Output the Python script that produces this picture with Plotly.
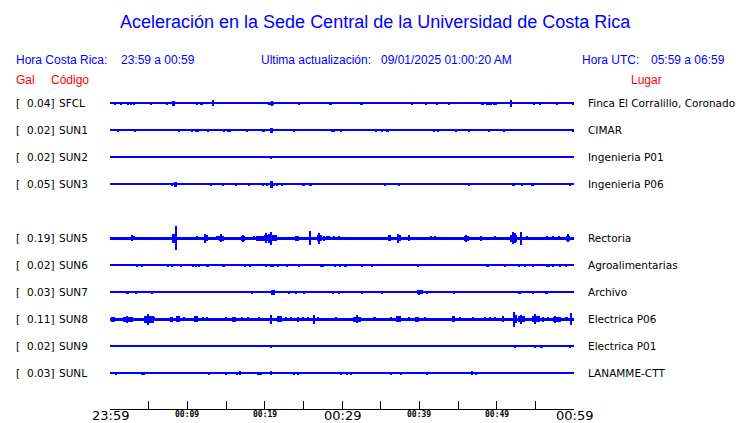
import plotly.graph_objects as go

# ---------------- data ----------------
STATION_CODES = ["SFCL", "SUN1", "SUN2", "SUN3", "SUN4", "SUN5", "SUN6", "SUN7", "SUN8", "SUN9", "SUNL"]
GAL = [0.04, 0.02, 0.02, 0.05, None, 0.19, 0.02, 0.03, 0.11, 0.02, 0.03]
LUGAR = ["Finca El Corralillo, Coronado", "CIMAR", "Ingenieria P01", "Ingenieria P06", "",
         "Rectoria", "Agroalimentarias", "Archivo", "Electrica P06", "Electrica P01", "LANAMME-CTT"]
# background noise half-amplitude of each trace (amplitude units)
NOISE = [0.55, 0.55, 0.55, 0.55, None, 1.6, 0.55, 0.55, 1.6, 0.55, 0.55]

# bursts: (minutes after 23:59, half amplitude, duration in minutes)
SFCL_B = [(0.61, 1.5, .13), (1.46, 1.5, .3), (2.33, 1.5, .3), (2.68, 1.5, .3), (3.15, 1.5, .13), (3.54, 1, .13),
          (3.98, 1, .13), (4.57, 1, .13), (5.27, 1.5, .3), (6.78, 1, .13), (7.35, 1.5, .3), (7.68, 1, .13),
          (8.20, 2.5, .3), (8.90, 1, .13), (10.20, 1, .13), (11.24, 1.5, .3), (11.83, 1.5, .3), (13.31, 3, .15),
          (13.90, 1, .13), (14.94, 1, .13), (15.72, 1, .13), (16.07, 1, .13), (17.79, 1, .13), (18.88, 1, .13),
          (20.00, 1, .13), (20.77, 1.5, .8), (20.95, 2.5, .15), (21.81, 1, .13), (22.12, 1, .13), (22.64, 1, .13),
          (24.40, 1.5, .3), (25.05, 1, .13), (25.57, 1, .13), (28.51, 1.5, .3), (29.58, 1, .13), (31.06, 1, .13),
          (32.53, 1.5, .3), (35.51, 1, .13), (37.02, 1, .13), (39.04, 1.5, .13), (40.47, 1, .13), (40.86, 1.5, .13),
          (42.28, 1.5, .13), (43.32, 1, .13), (43.80, 1.5, .3), (47.73, 1, .13), (48.17, 1.5, .4), (48.69, 1.5, .13),
          (49.02, 1.5, .13), (49.33, 1.5, .13), (49.80, 1.5, .5), (51.80, 3.5, .15), (54.81, 1.5, .3), (55.59, 1.5, .3),
          (56.54, 1, .13), (57.79, 1.5, .3), (58.61, 1, .13), (59.26, 1, .13), (59.83, 1.5, .3)]
SUN1_B = [(1.08, 1.5, .13), (2.11, 1, .13), (3.28, 1.5, .13), (8.90, 1.5, .3), (10.66, 1.5, .13), (11.18, 1.5, .13),
          (11.44, 1.5, .13), (12.66, 1.5, .13), (13.39, 1, .13), (14.68, 1.5, .13), (14.94, 1, .13), (15.20, 1.5, .13),
          (15.46, 1.5, .13), (17.71, 1.5, .13), (19.83, 1.5, .4), (20.90, 2.3, .4), (22.07, 1, .13), (22.98, 1, .13),
          (23.75, 1.5, .13), (24.71, 1, .13), (28.73, 1.5, .13), (28.99, 1.5, .13), (29.90, 1.5, .13), (34.38, 1.5, .13),
          (35.16, 1.5, .13), (35.54, 1, .13), (35.89, 1.5, .3), (37.36, 1, .13), (41.95, 1.5, .13), (42.41, 1.5, .13),
          (44.75, 1.5, .13), (46.43, 1.5, .13), (49.02, 1.5, .13), (50.97, 1.5, .13), (52.13, 1, .13), (59.9, 1.5, .13)]
SUN2_B = [(20.82, 1.5, .3)]
SUN3_B = [(2.11, 1, .13), (3.41, 1, .13), (8.07, 1.5, .13), (8.46, 2.3, .4), (13.12, 1.5, .13), (14.55, 1.5, .13),
          (16.24, 1.5, .13), (17.53, 1, .13), (17.92, 1.5, .13), (19.74, 1.5, .13), (20.31, 1.5, .3), (20.86, 3.7, .4),
          (21.25, 1.5, .3), (21.55, 1.5, .13), (22.20, 1.5, .13), (25.01, 1.5, .3), (25.92, 1.5, .3), (35.51, 1.5, .13),
          (37.41, 1.5, .3), (46.43, 1.5, .13), (48.50, 1, .13), (52.18, 1.5, .5), (53.26, 1.5, .3), (54.65, 1.5, .3),
          (59.49, 1.5, .13)]
SUN4_B = []
SUN5_B = [(2.89, 3, .15), (3.11, 2, .15), (8.16, 4.5, .4), (8.51, 12, .15), (11.31, 2, .15), (12.40, 3, .5),
          (12.35, 4.5, .15), (13.96, 2, .4), (14.42, 2.5, .6), (14.40, 4, .15), (17.23, 2.5, .5), (17.20, 3.5, .15),
          (18.66, 2, .15), (19.40, 2.5, 1.0), (20.38, 3, 1.0), (20.20, 5, .15), (20.60, 4.5, .15),
          (20.82, 6.5, .2), (21.25, 3, .6), (24.19, 2.5, .5), (25.92, 7, .2), (27.08, 3, .6), (27.00, 5.5, .15),
          (27.73, 2.5, .15), (28.08, 2, .15), (28.38, 2, .15), (29.03, 2, .15), (29.58, 2, .15), (36.15, 3, .5),
          (37.32, 3, .5), (37.30, 4.5, .15), (38.65, 3, .2), (41.56, 2, .15), (41.99, 2, .15), (46.09, 2.5, .7),
          (46.10, 3.5, .15), (47.98, 2.5, .3), (49.76, 2, .15), (52.22, 3.5, .9), (52.10, 6, .15), (52.40, 5, .15),
          (53.22, 6.5, .15), (53.87, 2, .15), (56.46, 2, .15), (57.31, 2, .15), (58.09, 2, .15), (59.22, 2.5, .4),
          (59.20, 4, .15)]
SUN6_B = [(1.39, 1, .13), (2.11, 1, .13), (3.46, 1.5, .13), (4.11, 1.5, .13), (7.56, 1.5, .13), (8.00, 1.5, .13),
          (8.51, 1, .13), (9.16, 1.5, .13), (10.79, 1.5, .13), (11.18, 1.5, .13), (11.53, 1.5, .13), (12.61, 1.5, .4),
          (14.64, 1.5, .4), (16.50, 1, .13), (17.49, 1.5, .13), (18.10, 1.5, .3), (20.13, 1.5, .13), (20.90, 1.5, .5),
          (21.68, 1.5, .13), (22.85, 1.5, .13), (24.40, 1.5, .13), (27.43, 1.5, .5), (29.07, 1.5, .13), (29.68, 1.5, .13),
          (30.45, 1.5, .3), (32.62, 1.5, .3), (33.86, 1.5, .13), (36.50, 1, .13), (39.82, 1.5, .13), (48.81, 1.5, .3),
          (51.02, 1.5, .13), (52.83, 1.5, .13), (53.69, 1.5, .13), (54.72, 1.5, .13), (56.63, 1.5, .5), (57.31, 1.5, .13),
          (58.18, 1.5, .3), (58.96, 1.5, .13)]
SUN7_B = [(2.24, 1.5, .4), (3.33, 1.5, .13), (5.48, 1.5, .13), (6.44, 1, .13), (14.47, 1, .13), (18.36, 1.5, .13),
          (21.03, 2.5, .5), (23.20, 1.5, .13), (24.06, 1.5, .13), (25.05, 1.5, .13), (28.81, 1.5, .13), (29.58, 1.5, .13),
          (31.40, 1, .13), (32.62, 1.5, .3), (35.16, 1.5, .13), (37.45, 1, .13), (40.04, 2, .8), (40.00, 2.5, .15),
          (40.99, 1.5, .3), (44.45, 1.5, .13), (53.00, 1.5, .4), (54.69, 1.5, .3), (56.46, 1.5, .4)]
SUN8_B = [(0.39, 2.5, .4), (2.33, 2.5, 1.2), (2.20, 3.5, .15), (5.10, 3.5, 1.3), (4.97, 5.5, .15), (5.70, 2, .15),
          (7.94, 2.5, .4), (8.77, 3, .6), (9.59, 2, .15), (11.11, 3, .6), (12.05, 2, .15), (12.49, 2, .15),
          (15.00, 2, .3), (16.04, 2.5, .6), (17.07, 2, .15), (17.79, 2, .15), (19.31, 2, .15), (20.82, 4.5, .2),
          (21.90, 3, .7), (22.77, 2, .15), (23.42, 2, .15), (24.28, 2.5, .3), (24.92, 2, .15), (25.57, 2, .15),
          (26.44, 4.5, .2), (26.87, 2, .15), (29.25, 2, .15), (31.92, 2.5, 1.0), (31.90, 4, .15), (34.21, 2, .4),
          (36.37, 2, .15), (37.32, 3, .6), (38.65, 2, .15), (39.69, 2.5, .6), (40.69, 2, .15), (44.36, 3, .4),
          (45.22, 2, .15), (46.95, 2, .15), (48.46, 2, .15), (49.20, 2, .15), (49.76, 2, .15), (50.84, 3, .3),
          (52.35, 4, .5), (52.30, 7.5, .15), (53.22, 3, .9), (53.10, 4.5, .15), (55.07, 3, 1.0), (55.00, 5, .15),
          (56.02, 2.5, .15), (56.67, 2, .15), (57.83, 2.5, 1.0), (57.60, 3.5, .15), (59.05, 2, .4), (59.57, 6, .15)]
SUN9_B = [(4.97, 1, .13), (20.82, 1.5, .25), (52.44, 1.5, .2), (54.90, 1.5, .13), (55.68, 1.5, .13),
          (55.89, 1.5, .13), (59.52, 1.5, .13)]
SUNL_B = [(0.74, 1.5, .13), (2.11, 1, .13), (4.19, 1.5, .13), (4.41, 1.5, .13), (8.59, 1, .13), (9.50, 1, .13),
          (12.74, 1.5, .13), (14.94, 1.5, .13), (15.20, 1, .13), (16.42, 1.5, .13), (16.81, 2, .3), (19.22, 1.5, .3),
          (19.48, 1.5, .13), (20.82, 2, .3), (23.33, 1, .13), (23.75, 1.5, .13), (24.27, 1.5, .13), (25.96, 1, .13),
          (29.84, 1.5, .13), (30.67, 1.5, .3), (31.19, 1.5, .13), (33.13, 1, .13), (36.37, 1.5, .13), (37.67, 1.5, .13),
          (40.99, 1.5, .13), (46.82, 2, .13), (47.39, 1.5, .13), (57.57, 1, .13)]
BURSTS = [SFCL_B, SUN1_B, SUN2_B, SUN3_B, SUN4_B, SUN5_B, SUN6_B, SUN7_B, SUN8_B, SUN9_B, SUNL_B]

WINDOW_MIN = 60
MAJOR_TICKS = [0, 30, 60]
MAJOR_LABELS = ["23:59", "00:29", "00:59"]
MINOR_TICKS = [10, 20, 40, 50]
MINOR_LABELS = ["00:09", "00:19", "00:39", "00:49"]
TICK_STEP = 5

TITLE = "Aceleración en la Sede Central de la Universidad de Costa Rica"
HORA_CR = "23:59 a 00:59"
ULTIMA = "09/01/2025 01:00:20 AM"
HORA_UTC = "05:59 a 06:59"

# ---------------- layout helpers ----------------
W, H = 740, 423
ML, MR, MT, MB = 110, 166, 88, 14
PW, PH = W - ML - MR, H - MT - MB
ROW_PX = 27.0
ROW0_PX = 103.3
AMP_TO_ROW = 1.0 / ROW_PX
BLUE = "#0000ff"
RED = "#ff0000"


def paper_x(p):
    return (p - ML) / PW


def paper_y(p):
    return (H - MB - p) / PH


fig = go.Figure()

for k, code in enumerate(STATION_CODES):
    if GAL[k] is None:
        continue
    xs = [WINDOW_MIN / 2]
    ws = [WINDOW_MIN]
    bases = [k - NOISE[k] * AMP_TO_ROW]
    hs = [2 * NOISE[k] * AMP_TO_ROW]
    for t, a, d in BURSTS[k]:
        xs.append(t)
        ws.append(d)
        bases.append(k - a * AMP_TO_ROW)
        hs.append(2 * a * AMP_TO_ROW)
    fig.add_trace(go.Bar(x=xs, y=hs, base=bases, width=ws, marker=dict(color=BLUE, line=dict(width=0)),
                         showlegend=False, hoverinfo="skip"))

ann = []
LBL_FONT = dict(family="DejaVu Sans", size=10.5, color="black")
for k, code in enumerate(STATION_CODES):
    if GAL[k] is None:
        continue
    ann.append(dict(x=paper_x(14), xref="paper", y=k, yref="y", text="[", showarrow=False,
                    xanchor="left", yanchor="middle", font=LBL_FONT))
    ann.append(dict(x=paper_x(55.5), xref="paper", y=k, yref="y", text=f"{GAL[k]:.2f}]", showarrow=False,
                    xanchor="right", yanchor="middle", font=LBL_FONT))
    ann.append(dict(x=paper_x(57), xref="paper", y=k, yref="y", text=code, showarrow=False,
                    xanchor="left", yanchor="middle", font=LBL_FONT))
    ann.append(dict(x=paper_x(586), xref="paper", y=k, yref="y", text=LUGAR[k], showarrow=False,
                    xanchor="left", yanchor="middle", font=LBL_FONT))

HDR = dict(family="Liberation Sans", size=12, color=BLUE)
REDF = dict(family="Liberation Sans", size=12, color=RED)
for txt, x0, y0, f in [("Hora Costa Rica:", 14, 60.5, HDR), (HORA_CR, 119, 60.5, HDR),
                       ("Ultima actualización:", 259, 60.5, HDR), (ULTIMA, 379, 60.5, HDR),
                       ("Hora UTC:", 579.5, 60.5, HDR), (HORA_UTC, 649, 60.5, HDR),
                       ("Gal", 14, 80.5, REDF), ("Código", 49, 80.5, REDF), ("Lugar", 629, 80.5, REDF)]:
    ann.append(dict(x=paper_x(x0), xref="paper", y=paper_y(y0), yref="paper", text=txt, showarrow=False,
                    xanchor="left", yanchor="middle", font=f))

ann.append(dict(x=paper_x(375), xref="paper", y=paper_y(22), yref="paper", text=TITLE, showarrow=False,
                xanchor="center", yanchor="middle", font=dict(family="Liberation Sans", size=18, color=BLUE)))

for t, lab in zip(MAJOR_TICKS, MAJOR_LABELS):
    ann.append(dict(x=t, xref="x", y=paper_y(415.5), yref="paper", text=lab, showarrow=False,
                    xanchor="center", yanchor="middle",
                    font=dict(family="DejaVu Sans", size=13, color="black")))
for t, lab in zip(MINOR_TICKS, MINOR_LABELS):
    ann.append(dict(x=t, xref="x", y=paper_y(414.5), yref="paper", text=f"<b>{lab}</b>", showarrow=False,
                    xanchor="center", yanchor="middle",
                    font=dict(family="DejaVu Sans Mono", size=8, color="black")))

y_bottom = (H - MB - ROW0_PX) / ROW_PX
y_top = (MT - ROW0_PX) / ROW_PX

fig.update_layout(
    width=W, height=H, margin=dict(l=ML, r=MR, t=MT, b=MB, pad=0),
    paper_bgcolor="white", plot_bgcolor="white",
    barmode="overlay", bargap=0, bargroupgap=0,
    annotations=ann,
    xaxis=dict(range=[0, WINDOW_MIN], tickvals=list(range(0, WINDOW_MIN + 1, TICK_STEP)),
               ticks="inside", ticklen=8, tickwidth=1, tickcolor="black",
               showline=True, linecolor="black", linewidth=1, showticklabels=False,
               showgrid=False, zeroline=False, fixedrange=True),
    yaxis=dict(range=[y_bottom, y_top], visible=False, showgrid=False, zeroline=False, fixedrange=True),
    showlegend=False,
)

fig.write_html("out.html", config={"displayModeBar": False},
               post_script="document.body.style.margin='0';document.body.style.overflow='hidden';")
